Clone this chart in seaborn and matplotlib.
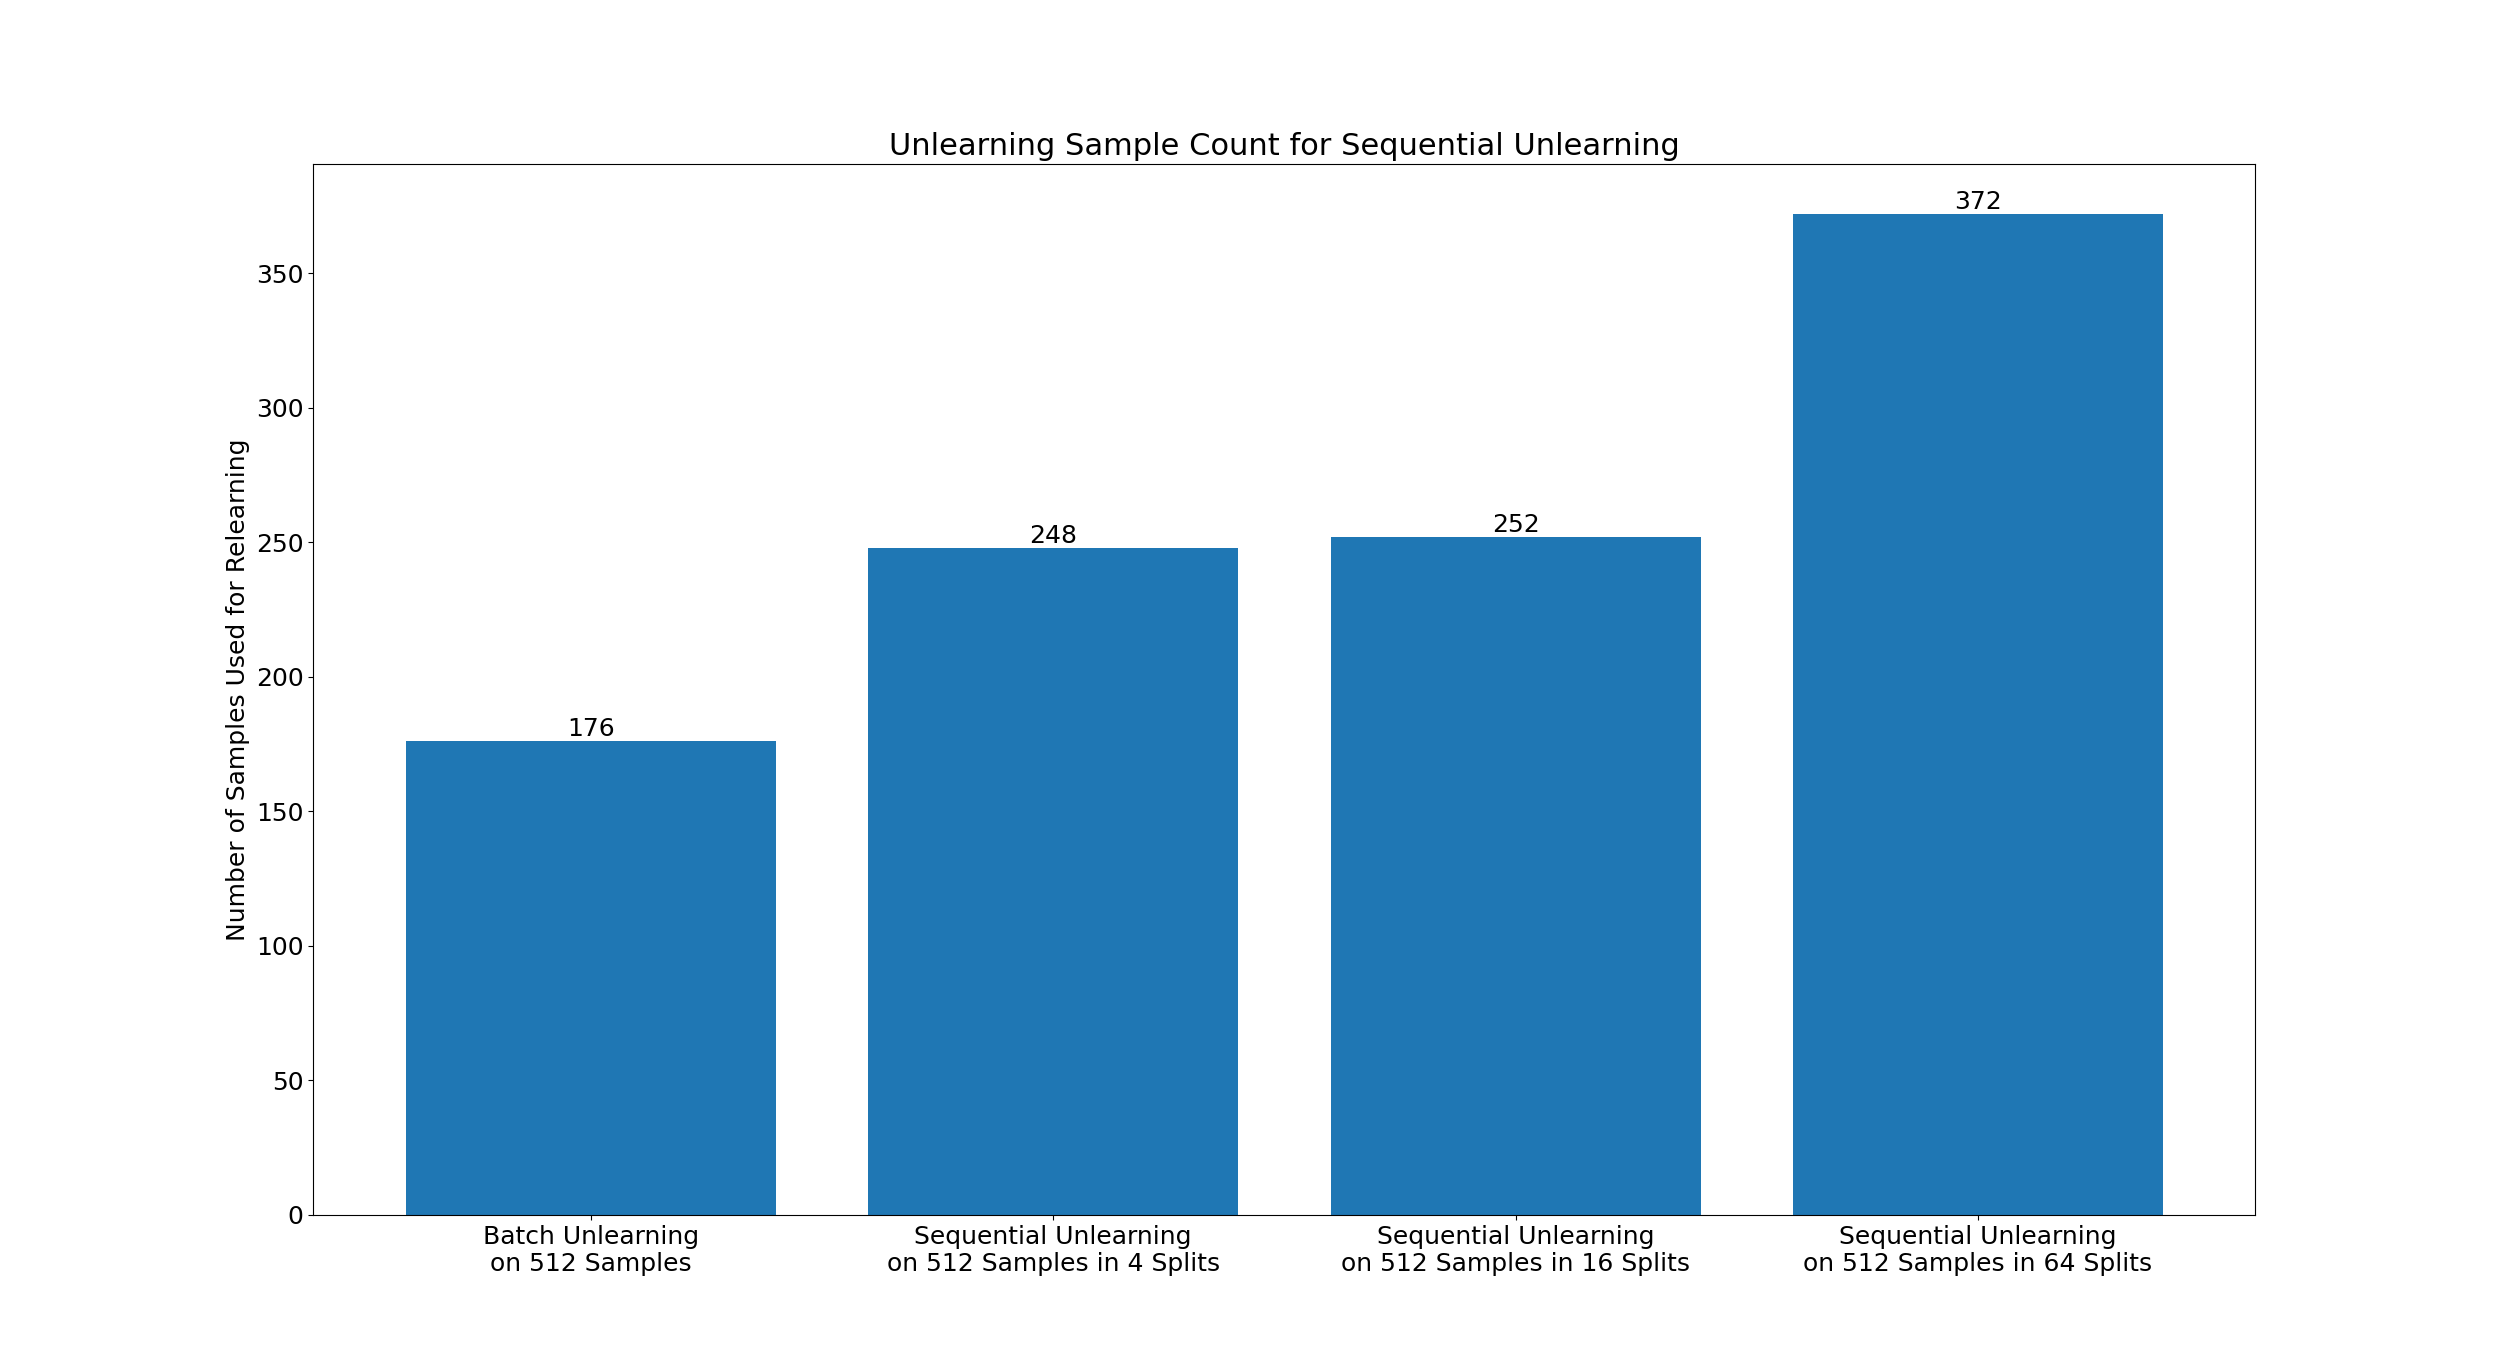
import matplotlib
matplotlib.use("Agg")
import matplotlib.pyplot as plt
import seaborn as sns
import pandas as pd

categories = [
    "Batch Unlearning\non 512 Samples",
    "Sequential Unlearning\non 512 Samples in 4 Splits",
    "Sequential Unlearning\non 512 Samples in 16 Splits",
    "Sequential Unlearning\non 512 Samples in 64 Splits",
]
counts = [176, 248, 252, 372]

df = pd.DataFrame({"method": categories, "count": counts})

fig, ax = plt.subplots(figsize=(25.06, 13.65), dpi=100)
sns.barplot(data=df, x="method", y="count", color="#1f77b4", saturation=1,
            width=0.8, ax=ax)
ax.bar_label(ax.containers[0], fontsize=18)
ax.set_title("Unlearning Sample Count for Sequential Unlearning", fontsize=22)
ax.set_xlabel("")
ax.set_ylabel("Number of Samples Used for Relearning", fontsize=18)
ax.tick_params(labelsize=18)
ax.set_xlim(-0.6, 3.6)
fig.savefig("out.png")
